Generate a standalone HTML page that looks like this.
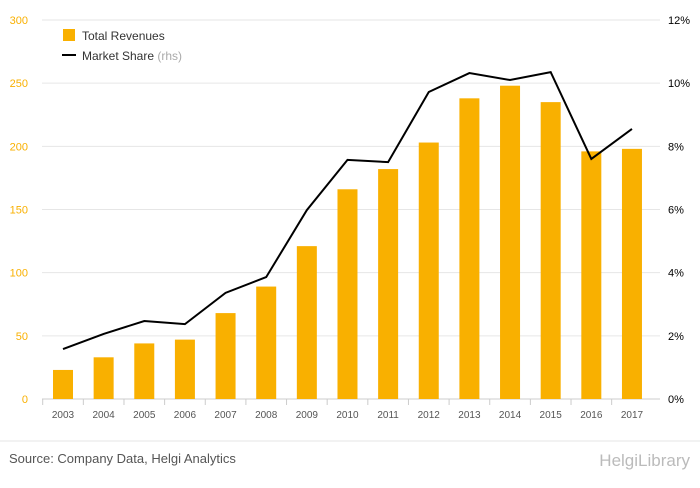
<!DOCTYPE html>
<html><head><meta charset="utf-8"><style>
body{margin:0;background:#fff;font-family:"Liberation Sans",sans-serif;}
svg text{font-family:"Liberation Sans",sans-serif;}
</style></head><body>
<svg width="700" height="483" xmlns="http://www.w3.org/2000/svg">
<g id="grid"></g>
<g id="bars"></g>
<polyline id="line" fill="none" stroke="#000" stroke-width="2"/>
<g id="axes"></g>
<g>
<rect x="63" y="29" width="12" height="12" fill="#f9b000"/>
<text x="82" y="40" font-size="12" fill="#333">Total Revenues</text>
<line x1="62" y1="55" x2="76" y2="55" stroke="#000" stroke-width="2"/>
<text x="82" y="60" font-size="12" fill="#333">Market Share <tspan fill="#aaa">(rhs)</tspan></text>
</g>
<line x1="0" y1="441" x2="700" y2="441" stroke="#e6e6e6"/>
<text x="9" y="463" font-size="13" fill="#555">Source: Company Data, Helgi Analytics</text>
<text x="690" y="466" font-size="17" fill="#bbb" text-anchor="end">HelgiLibrary</text>
</svg>
<script>
const years=['2003','2004','2005','2006','2007','2008','2009','2010','2011','2012','2013','2014','2015','2016','2017'];
const revenues=[23,33,44,47,68,89,121,166,182,203,238,248,235,196,198];
const share=[1.58,2.06,2.47,2.37,3.36,3.86,5.98,7.57,7.5,9.72,10.32,10.1,10.35,7.6,8.55];
const leftTicks=[0,50,100,150,200,250,300];
const rightTicks=[0,2,4,6,8,10,12];
const NS='http://www.w3.org/2000/svg';
const y0=399,yTop=20;
const yL=v=>y0-(v/300)*(y0-yTop);
const yR=v=>y0-(v/12)*(y0-yTop);
const xC=i=>63+i*40.64;
function mk(t,a,p){const e=document.createElementNS(NS,t);for(const k in a)e.setAttribute(k,a[k]);p.appendChild(e);return e;}
const grid=document.getElementById('grid'),bars=document.getElementById('bars'),axes=document.getElementById('axes');
leftTicks.forEach((v,i)=>{
 const l=mk('line',{x1:42,x2:660,y1:yL(v),y2:yL(v),stroke:v===0?'#ccc':'#e6e6e6'},grid);
 
 
 const t=mk('text',{x:28,y:yL(v)+4,'font-size':11,fill:'#f9b000','text-anchor':'end'},axes);t.textContent=v;
 
 
});
rightTicks.forEach(v=>{
 const t=mk('text',{x:668,y:yR(v)+4,'font-size':11,fill:'#000'},axes);t.textContent=v+'%';
 
 
});
years.forEach((y,i)=>{
 const r=mk('rect',{x:xC(i)-10,y:yL(revenues[i]),width:20,height:y0-yL(revenues[i]),fill:'#f9b000'},bars);
 
 
 const t=mk('text',{x:xC(i),y:418,'font-size':10,fill:'#555','text-anchor':'middle'},axes);t.textContent=y;
 
 
 const tk=mk('line',{x1:xC(i)-20.3,x2:xC(i)-20.3,y1:399,y2:405,stroke:'#ccc'},axes);
 
 
});
document.getElementById('line').setAttribute('points',share.map((v,i)=>xC(i)+','+yR(v)).join(' '));
</script>
</body></html>
